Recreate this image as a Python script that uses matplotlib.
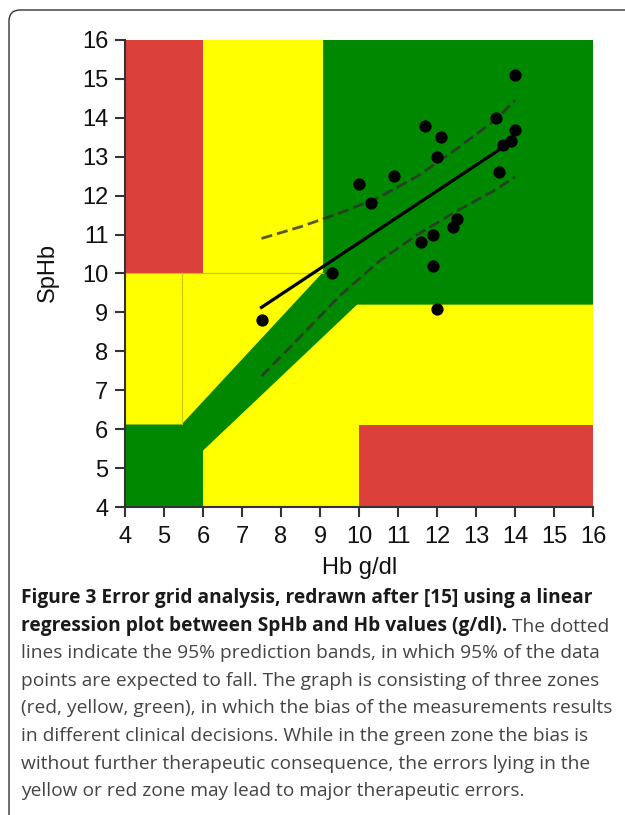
import numpy as np
import matplotlib
matplotlib.use('Agg')
import matplotlib.pyplot as plt
from matplotlib.patches import Polygon, Rectangle, FancyBboxPatch

# measured points, Hb (x) vs SpHb (y)
hb = [14.0, 13.5, 14.0, 13.9, 13.7, 13.6, 11.7, 12.1, 12.0, 10.9,
      10.0, 10.3, 12.5, 12.4, 11.9, 11.6, 11.9, 12.0, 9.3, 7.5]
sphb = [15.1, 14.0, 13.7, 13.4, 13.3, 12.6, 13.8, 13.5, 13.0, 12.5,
        12.3, 11.8, 11.4, 11.2, 11.0, 10.8, 10.2, 9.1, 10.0, 8.8]

# regression line and 95% prediction bands
fit_x = [7.5, 13.7]
fit_y = [9.13, 13.25]
band_x = [7.5, 8.5, 9.5, 10.5, 11.5, 12.5, 13.5, 14.0]
band_hi = [10.9, 11.2, 11.55, 11.95, 12.5, 13.2, 13.95, 14.45]
band_lo = [7.36, 8.38, 9.42, 10.3, 11.0, 11.6, 12.15, 12.48]

# zones of the error grid
green_zone = [(4, 4), (6, 4), (6, 5.45), (9.95, 9.2), (16, 9.2), (16, 16),
              (9.08, 16), (9.08, 10.04), (5.45, 6.12), (4, 6.12)]
red_zones = [(4, 10, 2, 6), (10, 4, 6, 2.1)]

ticks = list(range(4, 17))

caption = [
    [("Figure 3 Error grid analysis, redrawn after [15] using a linear", True)],
    [("regression plot between SpHb and Hb values (g/dl).", True), (" The dotted", False)],
    [("lines indicate the 95% prediction bands, in which 95% of the data", False)],
    [("points are expected to fall. The graph is consisting of three zones", False)],
    [("(red, yellow, green), in which the bias of the measurements results", False)],
    [("in different clinical decisions. While in the green zone the bias is", False)],
    [("without further therapeutic consequence, the errors lying in the", False)],
    [("yellow or red zone may lead to major therapeutic errors.", False)],
]

RED = '#dc403b'
YELLOW = '#ffff00'
GREEN = '#008800'

fig = plt.figure(figsize=(6.25, 8.15), dpi=100)
W, H = 625, 815
ax = fig.add_axes([125 / W, 1 - 507 / H, (593 - 125) / W, (507 - 40) / H])
ax.set_facecolor(YELLOW)
ax.set_xlim(4, 16)
ax.set_ylim(4, 16)

ax.add_patch(Polygon(green_zone, closed=True, fc=GREEN, ec='none', zorder=1))
for x0, y0, w, h in red_zones:
    ax.add_patch(Rectangle((x0, y0), w, h, fc=RED, ec='none', zorder=1))
# faint borders inside the yellow zone
ax.plot([4, 9.08], [10, 10], color='#c8c800', lw=0.8, zorder=1.5)
ax.plot([5.45, 5.45], [6.12, 10], color='#c8c800', lw=0.8, zorder=1.5)

ax.plot(band_x, band_hi, color='#303030', alpha=0.8, lw=2, dashes=(4, 1.8), zorder=2)
ax.plot(band_x, band_lo, color='#303030', alpha=0.8, lw=2, dashes=(4, 1.8), zorder=2)
ax.plot(fit_x, fit_y, color='black', lw=2.3, zorder=3)
ax.scatter(hb, sphb, s=78, color='black', zorder=4, linewidths=0)

for s in ['top', 'right']:
    ax.spines[s].set_visible(False)
for s in ['left', 'bottom']:
    ax.spines[s].set_color('#333333')
    ax.spines[s].set_linewidth(1.5)
    ax.spines[s].set_zorder(5)
ax.set_xticks(ticks)
ax.set_yticks(ticks)
ax.tick_params(direction='out', length=7, width=1.5, color='#333333',
               labelsize=17, pad=5)
ax.tick_params(axis='x', pad=7)
for lab in ax.get_xticklabels() + ax.get_yticklabels():
    lab.set_family('Liberation Sans')
    lab.set_color('#111111')

# overlay axes in pixel units for frame, labels and caption
ov = fig.add_axes([0, 0, 1, 1], zorder=-1)
ov.set_xlim(0, W)
ov.set_ylim(H, 0)
ov.axis('off')
ov.add_patch(FancyBboxPatch((9, 10), 700, 900, boxstyle='round,pad=0,rounding_size=11',
                            fc='none', ec='#333333', lw=1.0, clip_on=False))

fig.text(48 / W, 1 - 272 / H, 'SpHb', rotation=90, ha='center', va='center',
         fontsize=17, family='Liberation Sans', color='#111111')
fig.text(360 / W, 1 - 568 / H, 'Hb g/dl', ha='center', va='center',
         fontsize=17, family='Liberation Sans', color='#111111')

y0, pitch = 603, 27.6
for i, parts in enumerate(caption):
    y = y0 + i * pitch
    prev = None
    for txt, bold in parts:
        kw = dict(fontsize=13.8, family='Open Sans',
                  color='#1a1a1a' if bold else '#444444',
                  fontweight='bold' if bold else 'normal')
        if prev is None:
            prev = ov.text(21, y, txt, ha='left', va='baseline', **kw)
        else:
            prev = ov.annotate(txt, xy=(1, 0), xycoords=prev, xytext=(0, 0),
                               textcoords='offset points', ha='left', va='bottom', **kw)

fig.savefig('out.png', dpi=100)
